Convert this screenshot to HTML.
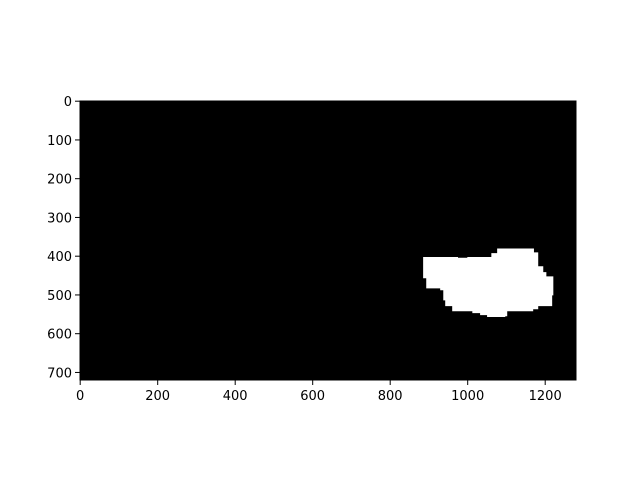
<!DOCTYPE html>
<html><head><meta charset="utf-8"><style>
body{margin:0;background:#fff;}
svg text{font-family:"DejaVu Sans","Liberation Sans",sans-serif;font-size:13px;fill:#000;}
</style></head><body>
<svg id="chart" width="640" height="476" xmlns="http://www.w3.org/2000/svg"></svg>
<script>
const xTicks=[0,200,400,600,800,1000,1200];
const yTicks=[0,100,200,300,400,500,600,700];
const imgWidth=1280;
const imgHeight=720;
const blobVertices=[[885,402],[975,402],[975,404],[999,404],[999,402],[1061,402],[1061,392],[1076,392],[1076,380],[1171,380],[1171,390],[1182,390],[1182,426],[1195,426],[1195,441],[1203,441],[1203,452],[1221,452],[1221,501],[1218,501],[1218,529],[1182,529],[1182,537],[1169,537],[1169,542],[1102,542],[1102,555],[1097,555],[1097,557],[1050,557],[1050,552],[1032,552],[1032,547],[1012,547],[1012,542],[960,542],[960,529],[942,529],[942,514],[937,514],[937,488],[929,488],[929,483],[893,483],[893,457],[885,457]];
const L=80,T=101,W=496,H=279;
const sx=v=>L+(v+0.5)/imgWidth*W;
const sy=v=>T+(v+0.5)/imgHeight*H;
const svg=document.getElementById('chart');
const NS='http://www.w3.org/2000/svg';
function mk(tag,attrs){const e=document.createElementNS(NS,tag);for(const k in attrs)e.setAttribute(k,attrs[k]);svg.appendChild(e);return e;}
const bg=mk('rect',{x:L,y:T,width:W,height:H,fill:'#000'});


const blob=mk('polygon',{points:blobVertices.map(p=>sx(p[0])+','+sy(p[1])).join(' '),fill:'#fff'});


const frame=mk('rect',{x:L,y:T,width:W,height:H,fill:'none',stroke:'#000','stroke-width':1});


xTicks.forEach(v=>{
  const x=sx(v);
  const t=mk('line',{x1:x,x2:x,y1:T+H,y2:T+H+5,stroke:'#000'});
  
  
  const lb=mk('text',{x:x,y:T+H+20,'text-anchor':'middle'});lb.textContent=v;
  
  
});
yTicks.forEach(v=>{
  const y=sy(v);
  const t=mk('line',{x1:L-5,x2:L,y1:y,y2:y,stroke:'#000'});
  
  
  const lb=mk('text',{x:L-8,y:y+5,'text-anchor':'end'});lb.textContent=v;
  
  
});
</script>
</body></html>
